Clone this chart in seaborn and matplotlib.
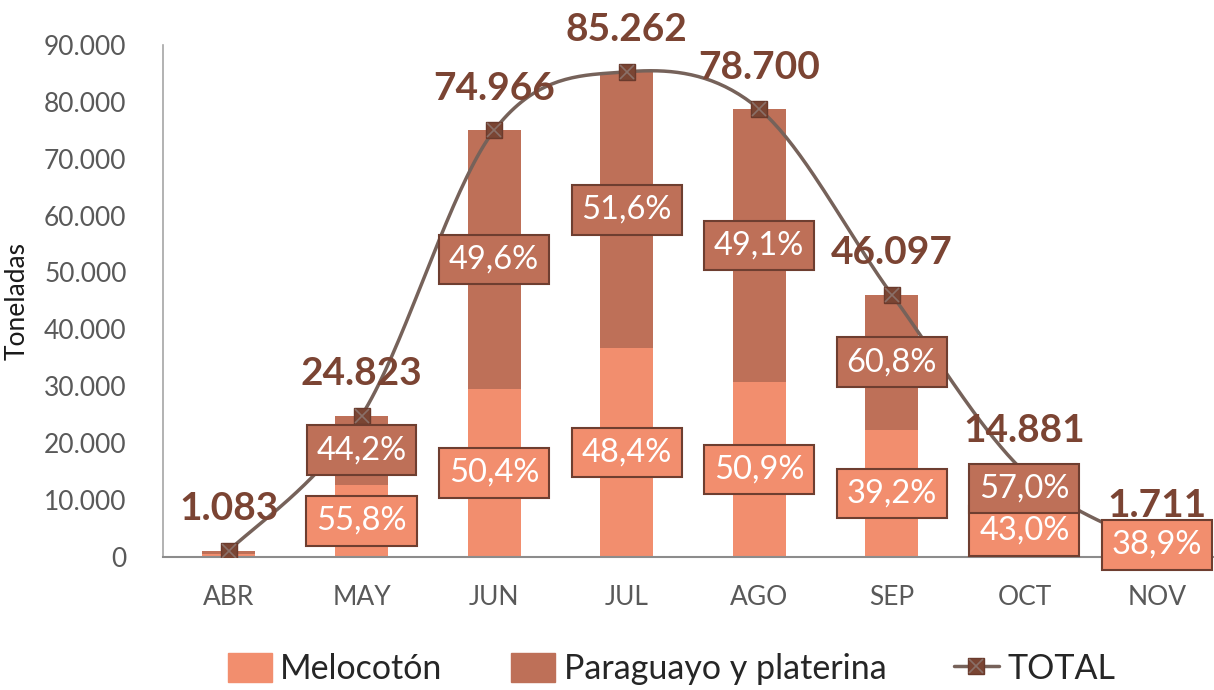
import numpy as np
import pandas as pd
import matplotlib
matplotlib.use("Agg")
import matplotlib.pyplot as plt
import seaborn as sns
from matplotlib.patches import Patch
from matplotlib.lines import Line2D

# data
meses = ["ABR", "MAY", "JUN", "JUL", "AGO", "SEP", "OCT", "NOV"]
total = [1083, 24823, 74966, 85262, 78700, 46097, 14881, 1711]
melocoton = [500, 12650, 29500, 36700, 30700, 22300, 9100, 670]
pct_melocoton = [None, "55,8%", "50,4%", "48,4%", "50,9%", "39,2%", "43,0%", "38,9%"]
pct_paraguayo = [None, "44,2%", "49,6%", "51,6%", "49,1%", "60,8%", "57,0%", None]
total_labels = ["1.083", "24.823", "74.966", "85.262", "78.700", "46.097", "14.881", "1.711"]

c_light = "#F28E6E"
c_dark = "#BE7058"
c_edge = "#6E3E30"
c_line = "#76625A"
c_lab = "#7B4433"

sns.set_style("white")
plt.rcParams["font.family"] = ["Lato", "DejaVu Sans"]

df = pd.DataFrame({"mes": meses, "total": total, "melocoton": melocoton})

fig = plt.figure(figsize=(12.14, 6.9), dpi=100)
ax = fig.add_axes([0.134, 0.193, 0.866, 0.742])

# stacked bars: full height in dark, melocoton on top in light
sns.barplot(data=df, x="mes", y="total", color=c_dark, width=0.4, saturation=1,
            linewidth=0, edgecolor="none", ax=ax)
sns.barplot(data=df, x="mes", y="melocoton", color=c_light, width=0.4, saturation=1,
            linewidth=0, edgecolor="none", ax=ax)

# smoothed total line (Excel style bezier through the points)
x = np.arange(len(total), dtype=float)
y = np.array(total, dtype=float)
px = np.concatenate([[x[0]], x, [x[-1]]])
py = np.concatenate([[y[0]], y, [y[-1]]])
xs, ys = [], []
t = np.linspace(0, 1, 40)
for i in range(len(x) - 1):
    p0 = np.array([px[i + 1], py[i + 1]])
    p3 = np.array([px[i + 2], py[i + 2]])
    p1 = p0 + (np.array([px[i + 2], py[i + 2]]) - np.array([px[i], py[i]])) / 6
    p2 = p3 - (np.array([px[i + 3], py[i + 3]]) - np.array([px[i + 1], py[i + 1]])) / 6
    b = ((1 - t) ** 3)[:, None] * p0 + (3 * (1 - t) ** 2 * t)[:, None] * p1 \
        + (3 * (1 - t) * t ** 2)[:, None] * p2 + (t ** 3)[:, None] * p3
    xs.extend(b[:, 0])
    ys.extend(b[:, 1])
ax.plot(xs, ys, color=c_line, lw=2.5, zorder=5)
ax.plot(x, y, ls="none", marker="s", ms=11, mfc="#7A4533", mec="#6A3A2C", zorder=6)
ax.plot(x, y, ls="none", marker="x", ms=10, mew=1.2, color="#8A7068", zorder=7)

# total labels
for i, lab in enumerate(total_labels):
    ax.annotate(lab, (i, total[i]), xytext=(0, 42), textcoords="offset pixels",
                ha="center", va="center", fontsize=28, fontweight="bold",
                color=c_lab, zorder=8)

# percentage boxes centred in each segment
for i in range(len(meses)):
    if pct_melocoton[i]:
        yc = max(melocoton[i] / 2, 2100)
        ax.text(i, yc, pct_melocoton[i], ha="center", va="center", fontsize=23.5,
                color="white", zorder=9,
                bbox=dict(boxstyle="square,pad=0.3", fc=c_light, ec=c_edge, lw=1.5))
    if pct_paraguayo[i]:
        yc = (melocoton[i] + total[i]) / 2
        ax.text(i, yc, pct_paraguayo[i], ha="center", va="center", fontsize=23.5,
                color="white", zorder=9,
                bbox=dict(boxstyle="square,pad=0.3", fc=c_dark, ec=c_edge, lw=1.5))

ax.set_xlim(-0.5, 7.43)
ax.set_ylim(0, 90000)
ax.set_yticks(range(0, 90001, 10000))
ax.set_yticklabels([f"{v:,}".replace(",", ".") for v in range(0, 90001, 10000)])
ax.tick_params(axis="both", length=0, labelsize=19, labelcolor="#595959")
ax.tick_params(axis="y", pad=26)
ax.tick_params(axis="x", pad=20)
ax.set_xlabel("")
ax.set_ylabel("Toneladas", fontsize=19, color="#1a1a1a", labelpad=6)
ax.yaxis.set_label_coords(-0.127, 0.5)
for s in ["top", "right"]:
    ax.spines[s].set_visible(False)
ax.spines["left"].set_color("#A6A6A6")
ax.spines["bottom"].set_color("#8C8C8C")
ax.spines["left"].set_linewidth(1.2)
ax.spines["bottom"].set_linewidth(1.5)

handles = [Patch(color=c_light), Patch(color=c_dark),
           (Line2D([], [], color=c_line, lw=2.5, marker="s", ms=11, mfc="#7A4533", mec="#6A3A2C"),
            Line2D([], [], ls="none", marker="x", ms=10, mew=1.2, color="#8A7068"))]
fig.legend(handles, ["Melocotón", "Paraguayo y platerina", "TOTAL"], loc="center",
           bbox_to_anchor=(0.553, 0.03), ncol=3, frameon=False, fontsize=24.5,
           handlelength=1.3, handleheight=0.9, handletextpad=0.25, columnspacing=2.0,
           labelcolor="#262626")

fig.savefig("out.png", dpi=100)
